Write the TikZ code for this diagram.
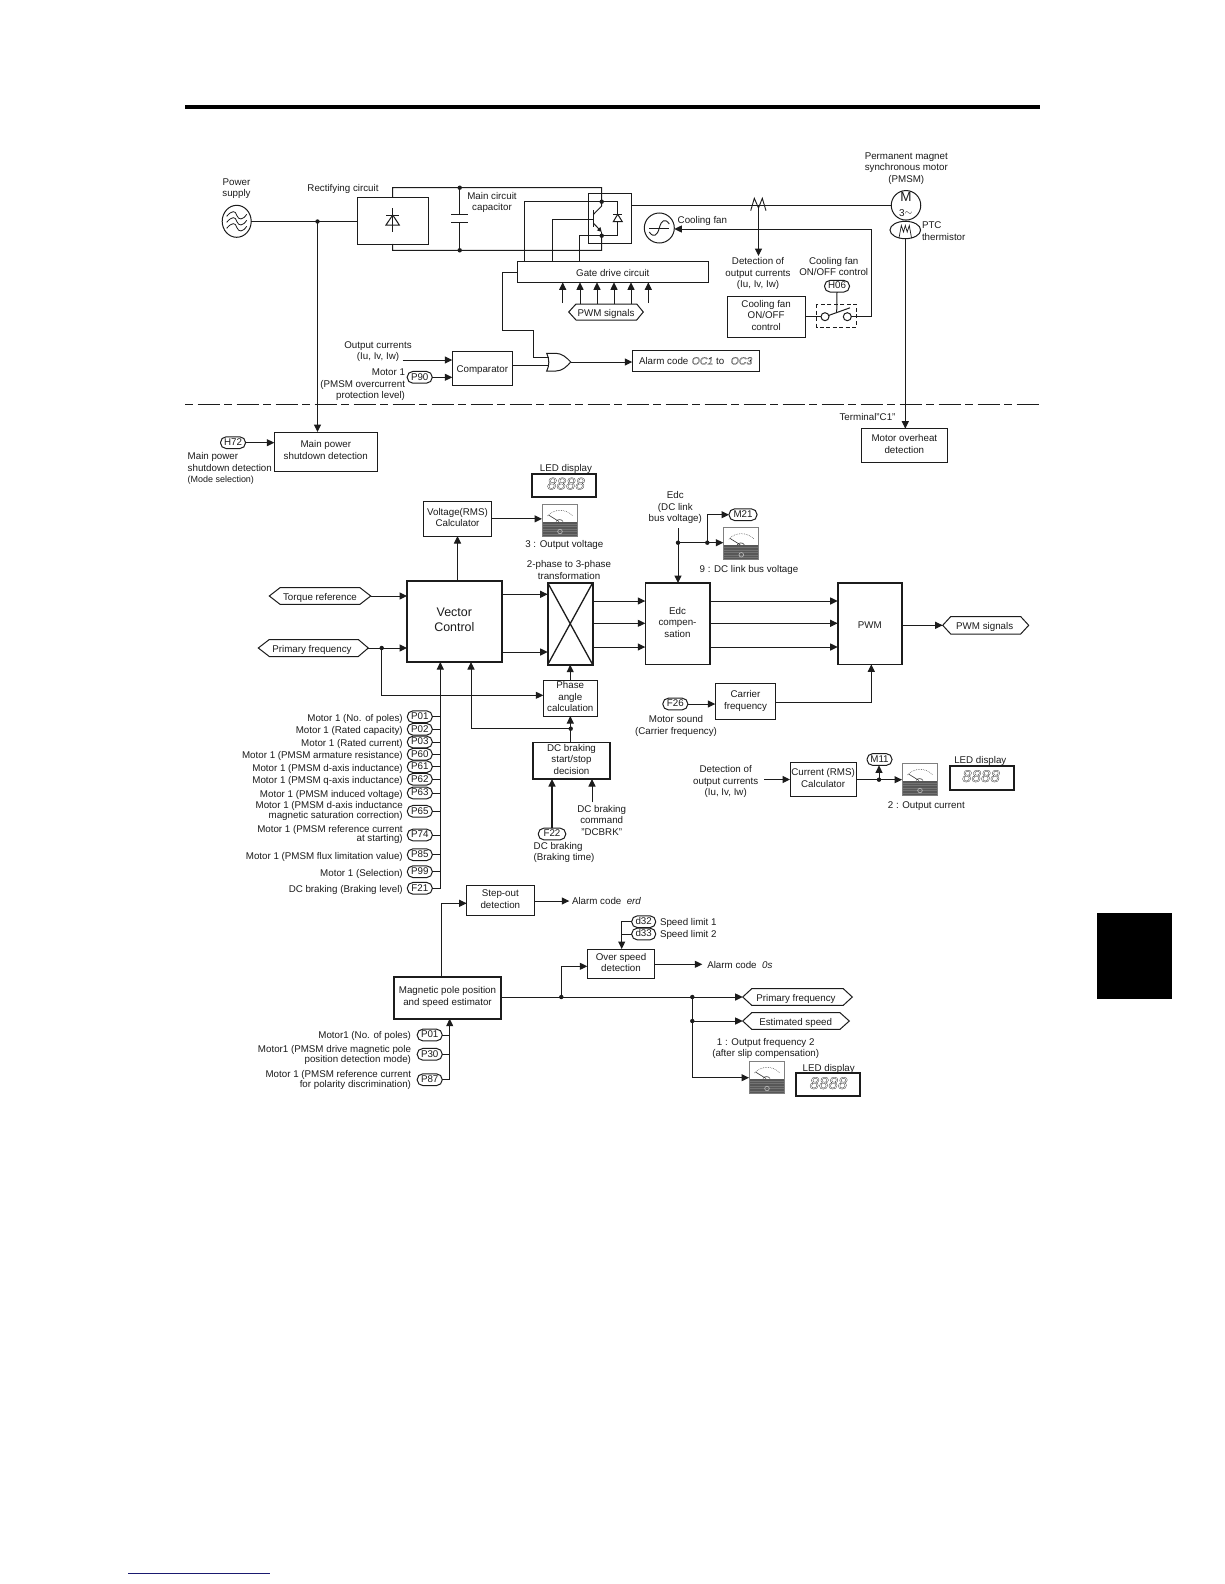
\documentclass[tikz,border=0pt]{standalone}
\usepackage{fontspec}
\setmainfont{Liberation Sans}
\usetikzlibrary{arrows.meta,shapes.geometric,calc}
\definecolor{ink}{HTML}{1C1C1C}
\definecolor{footblue}{HTML}{1A1A70}
\newcommand\strA{\rule{0pt}{11.9bp}}
\newcommand\strB{\rule[-3bp]{0pt}{3bp}}
\newcommand\strP{\rule[-2.05bp]{0pt}{9.65bp}}
\tikzset{
  wire/.style={line width=1bp,draw=ink},
  arr/.style={wire,-{Triangle[length=7.5bp,width=7bp]}},
  tbase/.style={inner sep=0,outer sep=0,align=center,text=ink,font=\fontsize{9.8}{11.7}\selectfont},
  t/.style={tbase,execute at begin node=\strA,execute at end node=\strB},
  tl/.style={t,anchor=west,align=left},
  tr/.style={t,anchor=east,align=right},
  rb/.style={t,draw=ink,line width=1bp,rectangle},
  heavy/.style={line width=2bp},
  pill/.style={tbase,rectangle,rounded corners=5.6bp,draw=ink,line width=1bp,minimum width=25bp,minimum height=11.7bp,execute at begin node=\strP},
  dot/.style={circle,fill=ink,inner sep=0,minimum size=4.4bp,outer sep=0},
  ghost/.style={inner sep=0,outer sep=0,rectangle},
}
\newcommand\rbox[7][]{\pgfmathsetmacro\cxx{(#3+#5)/2}\pgfmathsetmacro\cyy{(#4+#6)/2}%
  \node[rb,#1,minimum width={(#5-#3)*1bp},minimum height={(#6-#4)*1bp}] (#2) at (\cxx,\cyy) {#7};}
% name, x0, x-corner-left, x-corner-right, x1, y-mid, half height, text centre x, text
\newcommand\hexsig[9]{\draw[wire] (#2,#6) -- (#3,#6-#7) -- (#4,#6-#7) -- (#5,#6) -- (#4,#6+#7) -- (#3,#6+#7) -- cycle;
  \node[t] (#1) at (#8,#6) {#9};
  \coordinate (#1-l) at (#2,#6); \coordinate (#1-r) at (#5,#6);}
\newcommand\meterbox[3]{\node[ghost,minimum width=36bp,minimum height=33bp] (#1) at ($(#2,#3)+(18,16.5)$) {};
  \begin{scope}[shift={(#2,#3)}]
    \fill[black!50] (0,0) rectangle (36,33);
    \fill[white] (1,1) rectangle (35,17.5);
    \fill[black!66] (1,17.5) rectangle (35,32);
    \foreach \yy in {20,22.5,25,27.5,30}{\draw[black!55,line width=.5bp] (1,\yy) -- (35,\yy);}
    \draw[black!70,line width=.5bp,dash pattern=on .7bp off 1bp] (5.5,12) .. controls (12,4.5) and (24,4.5) .. (31,12);
    \draw[black!80,line width=.6bp] (17,17.5) -- (6.5,11);
    \draw[black!80,line width=.6bp] (14,17.5) .. controls (15,15) and (20,15) .. (21,17.5);
    \draw[black!25,line width=.6bp] (18,27.5) circle (2.3);
  \end{scope}}
\newcommand\outl[2][.25]{\special{pdf:code 1 Tr #1 w}#2\special{pdf:code 0 Tr}}
\newcommand\leddigits[3]{\node[t,font=\fontsize{17}{17}\selectfont\itshape] (#1) at (#2,#3) {\outl{8888}};}
\begin{document}
\begin{tikzpicture}[x=1bp,y=-1bp]
\useasboundingbox (0,0) rectangle (1224,1584);
\fill[white] (0,0) rectangle (1224,1584);
% page furniture
\fill[black] (185,105) rectangle (1039.5,109);
\fill[black] (1097,913) rectangle (1172,998.5);
\draw[footblue,line width=1bp] (128,1573.5) -- (270,1573.5);
\draw[ink,line width=1bp,dash pattern=on 22bp off 4.5bp on 8bp off 4.5bp,dash phase=26.5bp] (185,404.6) -- (1039.5,404.6);

%%% ---------- TOP: power circuit ----------
\node[t] (tPower) at (236.5,189.2) {Power\\supply};
\node[ghost,ellipse,draw=ink,line width=1bp,minimum width=29bp,minimum height=32bp] (psu) at (236.7,221.3) {};
\foreach \dy in {-6,0,6}{\draw[wire,line width=.8bp] ($(psu.center)+(-10,\dy+1)$) .. controls ($(psu.center)+(-5,\dy-5)$) and ($(psu.center)+(-1,\dy-5)$) .. ($(psu.center)+(0,\dy)$) .. controls ($(psu.center)+(2,\dy+5)$) and ($(psu.center)+(6,\dy+5)$) .. ($(psu.center)+(10,\dy-1)$);}
\node[t] (tRect) at (343,187.5) {Rectifying circuit};
\rbox{rect}{357}{197}{428}{244}{}
\node[dot] (jpwr) at (317.5,221.5) {};
\draw[wire] (psu.east) -- (rect.west |- psu.east);
% rectifier diode
\draw[wire,fill=white] (386,225) -- (392.7,215) -- (399.3,225) -- cycle;
\draw[wire] (386,215) -- (399.3,215);
\draw[wire] (392.7,208.3) -- (392.7,231.7);
% DC link
\node[dot] (jcapT) at (459.7,187.7) {};
\node[dot] (jcapB) at (459.7,250.3) {};
\node[dot] (jcol) at (601.7,201.7) {};
\node[dot] (jemi) at (601.7,235.7) {};
\draw[wire] (rect.north) -- (392.7,187.7) -- (601.7,187.7) -- (jcol.center);
\draw[wire] (rect.south) -- (392.7,250.3) -- (601.7,250.3) -- (jemi.center);
\draw[wire] (jcapT.center) -- (459.7,214.3);
\draw[wire] (jcapB.center) -- (459.7,222.3);
\draw[wire] (451,214.3) -- (468,214.3);
\draw[wire] (451,222.3) -- (468,222.3);
\node[t] (tCap) at (492,202.8) {Main circuit\\capacitor};
% inverter leg
\rbox{inv}{588.7}{193.3}{631}{243.3}{}
\rbox{gate}{517.3}{261.2}{708.3}{282.3}{Gate drive circuit}
\draw[wire] (gate.north -| 524,0) -- (524,201.7) -- (617.7,201.7) -- (617.7,235.7) -- (jemi.center) -- (579.3,235.7) -- (gate.north -| 579.3,0);
\draw[wire] (gate.north -| 552,0) -- (552,219) -- (593.3,219);
\draw[wire,line width=1.2bp] (593.3,210) -- (593.3,227.3);
\draw[wire] (593.3,214.5) -- (601.7,206) -- (jcol.center);
\draw[arr,-{Triangle[length=4.5bp,width=4.5bp]}] (593.3,223) -- (601.7,232);
\draw[wire] (601.7,232) -- (jemi.center);
\draw[wire,fill=white] (613.3,221.7) -- (617.7,214.3) -- (622.3,221.7) -- cycle;
\draw[wire] (613.3,214.3) -- (622.3,214.3);
% PWM to gate
\hexsig{hexPwmTop}{568.7}{576}{636.7}{643.3}{312}{8}{606}{PWM signals}
\coordinate (gb) at (gate.south);
\draw[arr] (562.7,303) -- (gb -| 562.7,0);
\draw[arr] (580,304) -- (gb -| 580,0);
\draw[arr] (597,304) -- (gb -| 597,0);
\draw[arr] (614,304) -- (gb -| 614,0);
\draw[arr] (631,304) -- (gb -| 631,0);
\draw[arr] (648.3,303) -- (gb -| 648.3,0);
% comparator, OR, alarm
\node[t] (tOut) at (378,352.2) {Output currents\\(Iu, Iv, Iw)};
\rbox{comp}{452.3}{351.7}{512.3}{385.3}{Comparator}
\coordinate (orA) at (548.5,357.3);
\coordinate (orB) at (549.3,365.7);
\coordinate (orOut) at (570.7,362);
\draw[wire,fill=white] (546.7,353.3) -- (556,353.3) .. controls (562,353.3) and (567,358) .. (orOut) .. controls (567,366.5) and (562,371) .. (556,371) -- (546.7,371) .. controls (549.5,365.5) and (549.5,359) .. cycle;
\draw[wire] (gate.west |- 0,272.7) -- (502,272.7) -- (502,330) -- (533.3,330) -- (533.3,357.3) -- (orA);
\draw[wire] (comp.east |- orB) -- (orB);
\rbox{alarmA}{632.3}{350.7}{759.7}{371.7}{}
\node[tl] (tAlarmA) at (639,360.5) {Alarm code};
\node[t,font=\fontsize{10.5}{11}\selectfont\itshape] (oc1) at (702.5,360) {\outl[.2]{OC1}};
\node[t] (tTo) at (720.3,360.5) {to};
\node[t,font=\fontsize{10.5}{11}\selectfont\itshape] (oc3) at (741.5,360) {\outl[.2]{OC3}};
\draw[arr] (orOut) -- (alarmA.west |- orOut);
\node[ghost] (nOutA) at (402.7,360) {};
\draw[arr] (nOutA.center) -- (comp.west |- nOutA);
\node[pill] (P90) at (419.7,377.3) {P90};
\draw[arr] (P90.east) -- (comp.west |- P90.east);
\node[tr] (tP90) at (405,385.3) {Motor 1\\(PMSM overcurrent\\protection level)};

% output and motor
\node[t] (tMotor) at (906.3,168.8) {Permanent magnet\\synchronous motor\\(PMSM)};
\node[ghost,circle,draw=ink,line width=1bp,minimum size=29.5bp] (motor) at (906,205.3) {};
\node[t,font=\fontsize{13.5}{14}\selectfont] (tM) at (906,197.5) {M};
\node[t,font=\fontsize{10}{11}\selectfont] (t3p) at (905.7,212) {3\raisebox{.5pt}{$\sim$}};
\draw[wire] (inv.east |- motor.west) -- (motor.west);
\draw[wire,line width=.9bp] (750.7,210.7) -- (754.3,198.3) -- (758.5,208) -- (762.3,198.3) -- (766,210.7);
\node[t] (tDet) at (758,274.2) {Detection of\\output currents\\(Iu, Iv, Iw)};
\coordinate (sens) at (758.5,205.3);
\draw[arr] (sens) -- (758.5,256);
% PTC
\node[ghost,ellipse,draw=ink,line width=1bp,minimum width=30.6bp,minimum height=17.4bp,fill=white] (ptc) at (905.3,230) {};
\draw[wire,line width=.7bp] (899,238) -- (901.3,225.5) -- (903.5,232) -- (905.3,225.5) -- (907.2,232) -- (909.3,225.5) -- (911.5,238);
\node[tl] (tPtc) at (922,232.3) {PTC\\thermistor};
\rbox{oheat}{861.7}{428.7}{947}{462.3}{Motor overheat\\detection}
\draw[arr] (ptc.south) -- (ptc.south |- oheat.north);
\node[t] (tC1) at (867.5,416.5) {Terminal"C1"};
% fan
\node[ghost,circle,draw=ink,line width=1bp,minimum size=30bp] (fan) at (659.3,228) {};
\draw[wire,line width=.8bp] ($(fan.center)+(-10,0)$) -- ($(fan.center)+(10,0)$);
\draw[wire,line width=.9bp] ($(fan.center)+(-10,4)$) .. controls ($(fan.center)+(-6,10)$) and ($(fan.center)+(-2,8)$) .. (fan.center) .. controls ($(fan.center)+(2,-8)$) and ($(fan.center)+(6,-10)$) .. ($(fan.center)+(10,-4)$);
\node[tl] (tFan) at (677.7,219.5) {Cooling fan};
% fan switch
\rbox{fanc}{727.3}{296.3}{805}{337.3}{Cooling fan\\ON/OFF\\control}
\node[t] (tFanC) at (833.7,268) {Cooling fan\\ON/OFF control};
\node[pill] (H06) at (837,286.2) {H06};
\draw[ink,line width=1bp,dash pattern=on 4bp off 2.5bp] (816.7,304) rectangle (856.3,327);
\node[ghost,circle,draw=ink,line width=1bp,minimum size=8bp] (swL) at (825,316.7) {};
\node[ghost,circle,draw=ink,line width=1bp,minimum size=8bp] (swR) at (847.3,316.7) {};
\draw[wire] (fanc.east |- swL.west) -- (swL.west);
\coordinate (swArm) at (836.7,312.3);
\draw[wire] (828.5,315.5) -- (850,307.8);
\draw[wire] (H06.south) -- (swArm);
\coordinate (fanIn) at (871.7,229);
\draw[wire] (swR.east) -- (871.7,316.7) -- (fanIn);
\draw[arr] (fanIn) -- (fan.east |- fanIn);

%%% ---------- MIDDLE ----------
\rbox{shut}{274.3}{432}{377.3}{471.3}{Main power\\shutdown detection}
\draw[arr] (jpwr.center) -- (jpwr.center |- shut.north);
\node[pill] (H72) at (233,442.7) {H72};
\draw[arr] (H72.east) -- (shut.west |- H72.east);
\node[tl] (tH72) at (187.7,469.3) {Main power\\shutdown detection\\{\fontsize{9}{11}\selectfont(Mode selection)}};

\node[t] (tLed1) at (566,467.2) {LED display};
\rbox[heavy]{led1}{531.7}{474}{595.7}{497.3}{}
\leddigits{d1}{566}{485}
\rbox{volt}{423.3}{501.7}{491.7}{536}{Voltage(RMS)\\Calculator}
\meterbox{m3}{542}{504}
\draw[arr] (volt.east) -- (volt.east -| m3.west);
\node[t] (tM3) at (564.3,542.8) {3 : Output voltage};
\node[t] (tTrans) at (569,571.5) {2-phase to 3-phase\\transformation};

\rbox[line width=2.4bp,font=\fontsize{12.5}{14.4}\selectfont]{vector}{407}{580.7}{501.7}{662}{Vector\\Control}
\draw[arr] (vector.north -| volt.south) -- (volt.south);
\rbox[heavy]{xf}{547.7}{582.7}{592.7}{664.7}{}
\draw[wire,line width=1.3bp] (xf.north west) -- (xf.south east) (xf.north east) -- (xf.south west);
\draw[arr] (vector.east |- 0,594.3) -- (xf.west |- 0,594.3);
\draw[arr] (vector.east |- 0,652) -- (xf.west |- 0,652);
\hexsig{hexTorque}{269.3}{280}{360}{370.7}{596}{8.3}{320}{Torque reference}
\draw[arr] (hexTorque-r) -- (vector.west |- hexTorque-r);
\hexsig{hexPf}{258.3}{269.3}{358.3}{368.3}{648}{8.5}{312}{Primary frequency}
\node[dot] (jpf) at (381.7,648) {};
\draw[arr] (hexPf-r) -- (vector.west |- hexPf-r);
\rbox{phase}{543.3}{680}{597.3}{716}{Phase\\angle\\calculation}
\draw[arr] (jpf.center) |- (phase.west |- 0,695.3);
\draw[arr] (phase.north -| xf.south) -- (xf.south);

% Edc / PWM
\node[t] (tEdc) at (675.3,508.3) {Edc\\(DC link\\bus voltage)};
\rbox[line width=1.6bp]{edc}{645.3}{583}{709.7}{664.3}{Edc\\compen-\\sation}
\rbox[line width=1.6bp]{pwm}{837.7}{583}{902}{664.3}{PWM}
\foreach \yy in {601,623.3,647}{
  \draw[arr] (xf.east |- 0,\yy) -- (edc.west |- 0,\yy);
  \draw[arr] (edc.east |- 0,\yy) -- (pwm.west |- 0,\yy);
}
\node[ghost] (edcTop) at (678,528.3) {};
\draw[arr] (edcTop.center) -- (edcTop.center |- edc.north);
\node[dot] (jE1) at (678,542.7) {};
\node[dot] (jE2) at (707.3,542.7) {};
\meterbox{m9}{723.3}{527.3}
\draw[arr] (jE1.center) -- (m9.west |- jE1.center);
\node[pill,minimum width=28bp] (M21) at (743,514.7) {M21};
\draw[arr] (jE2.center) |- (M21.west);
\node[t] (tM9) at (749,568.2) {9 : DC link bus voltage};
\hexsig{hexPwm}{942.7}{950.7}{1020.7}{1028.7}{625.3}{8.7}{984.7}{PWM signals}
\draw[arr] (pwm.east |- hexPwm-l) -- (hexPwm-l);
\rbox{carrier}{715.3}{683.7}{775.7}{719.3}{Carrier\\frequency}
\draw[arr] (carrier.east |- 0,702.3) -| (pwm.south -| 871.3,0);
\node[pill] (F26) at (675.3,704) {F26};
\draw[arr] (F26.east) -- (carrier.west |- F26.east);
\node[t] (tF26) at (676,726.5) {Motor sound\\(Carrier frequency)};

% current display
\node[t] (tDet2) at (725.7,782) {Detection of\\output currents\\(Iu, Iv, Iw)};
\rbox{curr}{790}{762.7}{856.3}{796.7}{Current (RMS)\\Calculator}
\node[ghost] (nDet2) at (764,779.5) {};
\draw[arr] (nDet2.center) -- (curr.west |- nDet2.center);
\meterbox{m2}{902}{763}
\draw[arr] (curr.east) -- (curr.east -| m2.west);
\node[dot] (jM11) at (879,779.7) {};
\node[pill] (M11) at (879.5,759.5) {M11};
\draw[arr] (jM11.center) -- (jM11.center |- M11.south);
\node[t] (tLed2) at (980.3,759.5) {LED display};
\rbox[heavy]{led2}{949.7}{766}{1013.7}{789.7}{}
\leddigits{d2}{981}{777.5}
\node[t] (tM2) at (926.3,804.5) {2 : Output current};

% parameter bus
\foreach \n/\py/\ptxt in {
  P01/716.7/{Motor 1 (No. of poles)},
  P02/729.3/{Motor 1 (Rated capacity)},
  P03/742/{Motor 1 (Rated current)},
  P60/754.3/{Motor 1 (PMSM armature resistance)},
  P61/766.7/{Motor 1 (PMSM d-axis inductance)},
  P62/779.3/{Motor 1 (PMSM q-axis inductance)},
  P63/793/{Motor 1 (PMSM induced voltage)},
  P65/811.3/{Motor 1 (PMSM d-axis inductance\\magnetic saturation correction)},
  P74/835/{Motor 1 (PMSM reference current\\at starting)},
  P85/854.7/{Motor 1 (PMSM flux limitation value)},
  P99/871.7/{Motor 1 (Selection)},
  F21/888.3/{DC braking (Braking level)}}{
  \node[pill] (\n) at (419.8,\py) {\n};
  \node[tr,font=\fontsize{9.8}{9.8}\selectfont] (l\n) at (402.7,\py) {\ptxt};
  \draw[wire] (\n.east) -- (440.3,\py);
}
\coordinate (busTop) at (440.3,662);
\draw[arr] (F21.east) -| (busTop);

% DC braking
\rbox[line width=1.4bp]{dcb}{533}{742.7}{610}{779}{DC braking\\start/stop\\decision}
\node[dot] (jdc) at (570.7,728.7) {};
\draw[arr] (dcb.north -| phase.south) -- (phase.south);
\coordinate (vecB) at (471,662);
\draw[arr] (jdc.center) -| (vecB);
\node[pill,minimum width=27.5bp] (F22) at (552,834) {F22};
\draw[arr,line width=1.5bp] (F22.north) -- (F22.north |- dcb.south);
\node[tl] (tF22) at (533.7,853) {DC braking\\(Braking time)};
\node[t] (tCmd) at (601.7,821.8) {DC braking\\command\\"DCBRK"};
\coordinate (cmdTop) at (592,802.3);
\draw[arr] (cmdTop) -- (cmdTop |- dcb.south);

%%% ---------- BOTTOM ----------
\rbox{step}{466.7}{885.7}{534}{915.3}{Step-out\\detection}
\rbox[line width=1.9bp]{mag}{394}{976.7}{501}{1018.7}{Magnetic pole position\\and speed estimator}
\coordinate (magTop) at (441.3,976.7);
\draw[arr] (magTop) |- (step.west |- 0,903.3);
\node[ghost] (nAlarm1) at (569.3,901) {};
\draw[arr] (step.east |- nAlarm1.center) -- (nAlarm1.center);
\node[tl] (tAlarm1) at (572,900.5) {Alarm code\ \ {\itshape erd}};
\node[pill] (P01b) at (429.7,1035) {P01};
\node[pill] (P30) at (429.7,1054.3) {P30};
\node[pill] (P87) at (429.7,1079.7) {P87};
\coordinate (magIn) at (449.7,1018.7);
\draw[wire] (P01b.east) -- (P01b.east -| magIn);
\draw[wire] (P30.east) -- (P30.east -| magIn);
\draw[arr] (P87.east) -| (magIn);
\node[tr] (tP01b) at (411,1034) {Motor1 (No. of poles)};
\node[tr,font=\fontsize{9.8}{9.9}\selectfont] (tP30) at (411,1055.3) {Motor1 (PMSM drive magnetic pole\\position detection mode)};
\node[tr,font=\fontsize{9.8}{9.9}\selectfont] (tP87) at (411,1080.7) {Motor 1 (PMSM reference current\\for polarity discrimination)};

\rbox{over}{587.3}{949}{654.7}{978.7}{Over speed\\detection}
\node[pill,minimum width=24bp] (d32) at (643.7,921.7) {d32};
\node[pill,minimum width=24bp] (d33) at (643.7,934) {d33};
\node[tl] (td32) at (660,921.2) {Speed limit 1};
\node[tl] (td33) at (660,933.5) {Speed limit 2};
\coordinate (ovTop) at (621.7,949);
\draw[arr] (d32.west) -| (ovTop);
\draw[wire] (d33.west) -- (d33.west -| ovTop);
\node[ghost] (nAlarm2) at (702.3,964.3) {};
\draw[arr] (over.east |- nAlarm2.center) -- (nAlarm2.center);
\node[tl] (tAlarm2) at (707.3,964) {Alarm code\ \ {\itshape 0s}};

\hexsig{hexPf2}{742.7}{751.7}{843.3}{852.3}{997}{8.3}{796}{Primary frequency}
\hexsig{hexSp}{742.7}{751.7}{840}{849.3}{1021}{8.3}{795.7}{Estimated speed}
\node[dot] (j1) at (561.3,997) {};
\node[dot] (j2) at (692.3,997) {};
\node[dot] (j3) at (692.3,1021) {};
\draw[arr] (mag.east |- hexPf2-l) -- (hexPf2-l);
\draw[arr] (j1.center) |- (over.west |- 0,966.3);
\draw[arr] (j3.center) -- (hexSp-l);
\meterbox{m1}{749}{1061}
\draw[arr] (j2.center) |- (m1.west |- 0,1077.7);
\node[t] (tM1) at (765.7,1049) {1 : Output frequency 2\\(after slip compensation)};
\node[t] (tLed3) at (828.7,1067.2) {LED display};
\rbox[heavy]{led3}{796.3}{1073.3}{860.3}{1096.3}{}
\leddigits{d3}{828.5}{1084.5}
\end{tikzpicture}
\end{document}
